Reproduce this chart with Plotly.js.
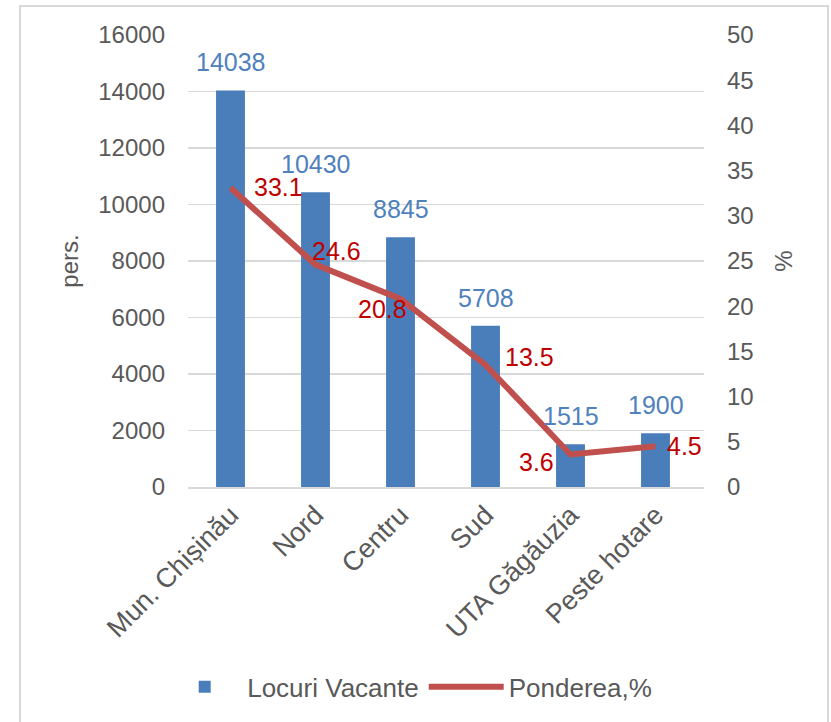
<!DOCTYPE html>
<html>
<head>
<meta charset="utf-8">
<script src="https://cdn.plot.ly/plotly-3.0.1.min.js"></script>
<style>
  html, body { margin: 0; padding: 0; background: #ffffff; }
  #wrap { position: relative; width: 831px; height: 722px; }
  #chart { position: absolute; left: 0; top: 0; width: 831px; height: 722px; }
  #frame { position: absolute; left: 19px; top: 5px; width: 806px; height: 730px; border: 2px solid #d9d9d9; pointer-events: none; }
</style>
</head>
<body>
<div id="wrap">
  <div id="chart"></div>
  <div id="frame"></div>
</div>
<script>
const categories = ["Mun. Chișinău", "Nord", "Centru", "Sud", "UTA Găgăuzia", "Peste hotare"];
const vacancies = [14038, 10430, 8845, 5708, 1515, 1900];
const shares = [33.1, 24.6, 20.8, 13.5, 3.6, 4.5];
const seriesNames = ["Locuri Vacante", "Ponderea,%"];
const leftTicks = [0, 2000, 4000, 6000, 8000, 10000, 12000, 14000, 16000];
const rightTicks = [0, 5, 10, 15, 20, 25, 30, 35, 40, 45, 50];

// label offsets (pixels) for the share labels, as placed in the original
const shareLabelShift = [[48, 1], [21, 14], [-18, -10], [44, 8], [-34, -8], [29, 0]];

const FONT = "Liberation Sans, Arial, sans-serif";

const traces = [
  {
    type: "bar",
    name: seriesNames[0],
    x: categories,
    y: vacancies,
    width: 0.34,
    marker: { color: "#4a7ebb" },
    hoverinfo: "x+y"
  },
  {
    type: "scatter",
    mode: "lines",
    name: seriesNames[1],
    x: categories,
    y: shares,
    yaxis: "y2",
    line: { color: "#c0504d", width: 6 },
    cliponaxis: false
  }
];

const annotations = [];
categories.forEach((c, i) => {
  annotations.push({
    x: c, y: vacancies[i], xref: "x", yref: "y",
    text: String(vacancies[i]), showarrow: false,
    xanchor: "center", yanchor: "bottom", yshift: 12,
    font: { family: FONT, size: 25, color: "#4f81bd" }
  });
  annotations.push({
    x: c, y: shares[i], xref: "x", yref: "y2",
    text: shares[i].toFixed(1), showarrow: false,
    xanchor: "center", yanchor: "middle",
    xshift: shareLabelShift[i][0], yshift: shareLabelShift[i][1],
    font: { family: FONT, size: 25, color: "#c00000" }
  });
});

const layout = {
  width: 831,
  height: 722,
  margin: { l: 188, r: 127, t: 35, b: 235, autoexpand: false },
  paper_bgcolor: "#ffffff",
  plot_bgcolor: "#ffffff",
  font: { family: FONT, size: 24, color: "#595959" },
  showlegend: true,
  legend: {
    orientation: "h",
    x: -0.05, xanchor: "left",
    y: -0.39, yanchor: "top",
    font: { family: FONT, size: 26, color: "#595959" },
    traceorder: "normal",
    itemwidth: 75
  },
  annotations: annotations,
  xaxis: {
    type: "category",
    tickangle: -45,
    automargin: false,
    showgrid: false,
    showline: true,
    linecolor: "#d9d9d9",
    linewidth: 1.5,
    ticks: "",
    tickfont: { family: FONT, size: 27, color: "#595959" },
    fixedrange: true
  },
  yaxis: {
    range: [0, 16000],
    automargin: false,
    tickvals: leftTicks,
    ticktext: leftTicks.map(String),
    showgrid: true,
    gridcolor: "#d9d9d9",
    gridwidth: 1.5,
    zeroline: false,
    ticks: "",
    ticklabelstandoff: 22,
    tickfont: { family: FONT, size: 24, color: "#595959" },
    title: { text: "pers.", font: { family: FONT, size: 24, color: "#595959" }, standoff: 12 },
    fixedrange: true
  },
  yaxis2: {
    overlaying: "y",
    side: "right",
    automargin: false,
    range: [0, 50],
    tickvals: rightTicks,
    ticktext: rightTicks.map(String),
    showgrid: false,
    zeroline: false,
    ticks: "",
    ticklabelstandoff: 22,
    tickfont: { family: FONT, size: 24, color: "#595959" },
    title: { text: "%", font: { family: FONT, size: 24, color: "#595959" }, standoff: 22 },
    fixedrange: true
  }
};

Plotly.newPlot("chart", traces, layout, { displayModeBar: false, staticPlot: true });
</script>
</body>
</html>
